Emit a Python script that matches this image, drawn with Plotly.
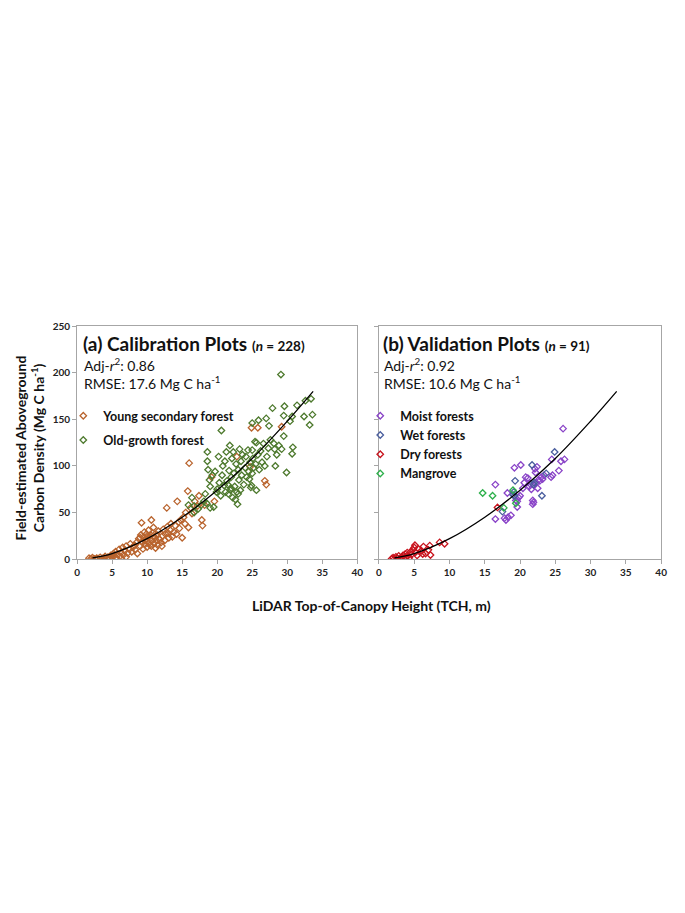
import plotly.graph_objects as go

# ---------------- data ----------------
young_x = [1.7, 2.0, 2.2, 2.5, 2.8, 3.0, 3.3, 3.6, 3.9, 4.0, 4.2, 4.4, 4.6, 4.8, 5.0, 5.2, 5.3, 5.5, 5.6, 5.8,
           6.0, 6.1, 6.3, 6.5, 6.6, 6.8, 7.0, 7.0, 7.2, 7.5, 7.6, 7.8, 8.0, 8.3, 8.5, 8.6,
           8.8, 9.0, 9.1, 9.2, 9.3, 9.4, 9.5, 9.6, 9.7, 9.8, 9.9, 10.0, 10.0, 10.1, 10.2, 10.3, 10.4, 10.5,
           10.6, 10.6, 10.7, 10.8, 10.9, 11.0, 11.1, 11.2, 11.3, 11.4, 11.5, 11.6, 11.8, 12.0, 12.2, 12.3,
           12.5, 12.6, 12.8, 12.9, 13.0, 13.1, 13.3, 13.4, 13.6, 13.8, 14.0, 14.2, 14.3, 14.5, 14.6, 14.8,
           15.0, 15.2, 15.4, 15.5, 15.8, 15.9, 16.0, 16.2, 16.4, 16.8, 17.2, 17.4, 17.8, 17.9, 18.2, 19.2,
           19.6, 22.8, 24.7, 24.9, 25.8, 26.8, 27.0, 29.2, 9.6, 10.4, 11.7, 12.1, 8.2, 9.0, 10.9]
young_y = [1.0, 0.5, 1.5, 0.3, 1.2, 0.5, 2.0, 0.8, 1.5, 3.0, 0.6, 2.2, 1.0, 4.0, 2.5, 6.0, 3.5, 8.0, 1.5, 5.0,
           10.5, 3.0, 7.0, 12.5, 4.5, 9.0, 2.5, 14.0, 6.5, 11.0, 16.5, 8.0, 13.0, 10.0, 18.0, 6.0,
           22.0, 14.0, 26.0, 39.0, 18.0, 11.0, 24.0, 29.0, 16.0, 21.0, 27.0, 13.0, 19.0, 24.0, 31.0, 17.0, 22.0, 26.0,
           42.0, 14.0, 20.0, 28.0, 34.0, 17.0, 23.0, 12.0, 20.0, 26.0, 15.0, 30.0, 21.0, 18.0, 25.0, 32.0,
           20.0, 27.0, 55.0, 35.0, 28.0, 23.0, 31.0, 38.0, 24.0, 29.0, 36.0, 27.0, 62.0, 40.0, 33.0, 42.0,
           23.0, 45.0, 38.0, 50.0, 73.0, 34.0, 103.0, 55.0, 49.0, 62.0, 57.0, 68.0, 42.0, 36.0, 58.0, 88.0,
           62.0, 110.0, 99.0, 141.0, 141.0, 84.0, 80.0, 142.0, 20.0, 15.0, 22.0, 14.0, 15.0, 23.0, 25.0]

old_x = [15.9, 16.4, 16.7, 16.7, 17.3, 17.7, 18.1, 18.3, 18.5, 18.6, 18.6, 18.7, 18.9, 19.0, 19.0, 19.3, 19.5,
         19.7, 19.9, 20.0, 20.2, 20.3, 20.5, 20.6, 20.7, 20.8, 21.0, 21.1, 21.2, 21.3, 21.4, 21.6, 21.7, 21.8,
         21.9, 22.0, 22.1, 22.2, 22.3, 22.4, 22.5, 22.6, 22.7, 22.8, 22.9, 23.0, 23.1, 23.2, 23.3, 23.4, 23.5,
         23.6, 23.8, 24.0, 24.1, 24.2, 24.4, 24.5, 24.7, 24.8, 24.9, 25.0, 25.0, 25.0, 25.1, 25.2, 25.4, 25.5,
         25.6, 25.6, 25.8, 25.9, 26.0, 26.2, 26.4, 26.6, 26.8, 27.0, 27.1, 27.3, 27.4, 27.6, 27.9, 28.1, 28.2,
         28.3, 28.5, 28.8, 29.1, 29.2, 29.5, 29.5, 29.6, 29.9, 30.4, 30.7, 30.7, 30.8, 31.4, 32.4, 32.6, 33.2,
         33.4, 33.6, 22.0, 23.0, 21.5, 24.6]
old_y = [58, 66, 50, 57, 54, 58, 62, 70, 60, 105, 115, 96, 85, 55, 78, 90, 56,
         94, 72, 75, 110, 82, 68, 138, 90, 100, 79, 105, 72, 115, 84, 70, 95, 122,
         74, 88, 108, 66, 115, 92, 78, 64, 102, 72, 59, 96, 85, 118, 74, 105, 90,
         112, 80, 98, 110, 88, 117, 94, 104, 77, 79, 92, 117, 146, 108, 98, 126, 102,
         74, 125, 112, 149, 96, 116, 104, 124, 100, 151, 110, 119, 143, 128, 162, 124, 118,
         100, 112, 122, 198, 118, 132, 154, 164, 93, 148, 113, 153, 120, 165, 153, 170, 144,
         172, 155, 76, 70, 80, 86]

dry_x = [1.8, 2.0, 2.2, 2.4, 2.6, 2.8, 3.0, 3.2, 3.4, 3.5, 3.7, 3.8, 4.0, 4.1, 4.3, 4.5, 4.6, 4.8, 5.0,
         5.1, 5.2, 5.4, 5.6, 6.0, 6.2, 6.3, 6.6, 7.0, 7.2, 7.3, 8.6, 9.3, 16.8]
dry_y = [0.5, 1.5, 0.3, 2.5, 1.0, 3.5, 0.8, 2.0, 4.0, 1.2, 5.5, 2.5, 7.0, 3.5, 1.5, 8.0, 5.0, 10.0, 12.5,
         15.0, 7.5, 4.0, 11.0, 9.0, 5.5, 13.5, 6.0, 10.0, 14.5, 4.5, 18.0, 16.5, 55.5]

moist_x = [16.5, 16.5, 17.8, 18.0, 18.2, 18.3, 18.7, 19.2, 19.4, 19.6, 19.6, 20.0, 20.1, 20.4, 20.8, 21.1,
           21.3, 21.6, 21.8, 21.8, 21.9, 22.0, 22.1, 22.2, 22.3, 22.4, 22.5, 22.6, 23.2, 23.4, 24.4, 24.5,
           24.6, 25.5, 25.8, 26.1, 26.3, 20.6, 21.4, 22.8, 19.8, 23.0]
moist_y = [43, 80, 44, 42, 71, 45, 47, 98, 63, 56, 62, 68, 101, 76, 88, 87,
           78, 75, 59, 63, 61, 80, 97, 93, 82, 99, 76, 85, 86, 90, 88, 107,
           90, 95, 105, 140, 107, 82, 81, 84, 66, 88]

wet_x = [17.5, 19.0, 19.1, 19.2, 19.3, 21.7, 21.9, 23.1, 23.7, 24.9, 22.0]
wet_y = [51, 69, 72, 68, 84, 101, 80, 68, 92, 115, 82]

mang_x = [14.7, 16.1, 17.7, 19.0, 19.4]
mang_y = [71, 68, 55, 74, 60]

# fitted power-law curve
fit_x = [2.2, 5, 10, 15, 20, 25, 30, 33.7]
fit_y = [1.4, 6, 22, 45, 74, 108, 148, 180]

x_ticks = [0, 5, 10, 15, 20, 25, 30, 35, 40]
y_ticks = [0, 50, 100, 150, 200, 250]

# ---------------- figure ----------------
OFF = 8                      # default body margin of the html page
W, H = 685 - 2 * OFF, 890
FONT = "Lato"

fig = go.Figure()

def mk(color):
    return dict(symbol="diamond-open", size=5, color=color, line=dict(width=1.3, color=color))

C_YOUNG = "#B9642E"
C_OLD = "#4E7A2E"
C_MOIST = "#8A44C8"
C_WET = "#4A5E9E"
C_DRY = "#C8141E"
C_MANG = "#2DB04B"

fig.add_trace(go.Scatter(x=young_x, y=young_y, mode="markers", marker=mk(C_YOUNG),
                         name="<b>Young secondary forest</b>", xaxis="x", yaxis="y",
                         legend="legend", legendgroup="a1"))
fig.add_trace(go.Scatter(x=old_x, y=old_y, mode="markers", marker=mk(C_OLD),
                         name="<b>Old-growth forest</b>", xaxis="x", yaxis="y",
                         legend="legend", legendgroup="a2"))
fig.add_trace(go.Scatter(x=fit_x, y=fit_y, mode="lines", line=dict(color="black", width=1.3, shape="spline"),
                         showlegend=False, xaxis="x", yaxis="y"))

fig.add_trace(go.Scatter(x=moist_x, y=moist_y, mode="markers", marker=mk(C_MOIST),
                         name="<b>Moist forests</b>", xaxis="x2", yaxis="y2", legend="legend2"))
fig.add_trace(go.Scatter(x=wet_x, y=wet_y, mode="markers", marker=mk(C_WET),
                         name="<b>Wet forests</b>", xaxis="x2", yaxis="y2", legend="legend2"))
fig.add_trace(go.Scatter(x=dry_x, y=dry_y, mode="markers", marker=mk(C_DRY),
                         name="<b>Dry forests</b>", xaxis="x2", yaxis="y2", legend="legend2"))
fig.add_trace(go.Scatter(x=mang_x, y=mang_y, mode="markers", marker=mk(C_MANG),
                         name="<b>Mangrove</b>", xaxis="x2", yaxis="y2", legend="legend2"))
fig.add_trace(go.Scatter(x=fit_x, y=fit_y, mode="lines", line=dict(color="black", width=1.3, shape="spline"),
                         showlegend=False, xaxis="x2", yaxis="y2"))

def px_x(p):
    return (p - OFF) / W

def px_y(p):
    return 1 - (p - OFF) / H

ydom = [px_y(560), px_y(324)]
LINE = "#A6A6A6"
tickfont = dict(family=FONT, size=10, color="#222222")

common_x = dict(range=[0, 40], tickvals=x_ticks, ticktext=[f"<b>{v}</b>" for v in x_ticks],
                showline=True, linecolor=LINE, linewidth=1, mirror=True, ticks="outside",
                ticklen=4, tickcolor=LINE, showgrid=False, zeroline=False, tickfont=tickfont)
common_y = dict(range=[0, 250], tickvals=y_ticks, showline=True, linecolor=LINE, linewidth=1,
                mirror=True, ticks="outside", ticklen=4, tickcolor=LINE, showgrid=False,
                zeroline=False, tickfont=tickfont, domain=ydom)

fig.update_layout(
    width=W, height=H, margin=dict(l=0, r=0, t=0, b=0),
    paper_bgcolor="white", plot_bgcolor="white",
    font=dict(family=FONT, color="#111111"),
    xaxis=dict(common_x, domain=[px_x(75), px_x(359)], anchor="y"),
    yaxis=dict(common_y, anchor="x", ticktext=[f"<b>{v}</b>" for v in y_ticks]),
    xaxis2=dict(common_x, domain=[px_x(381), px_x(667)], anchor="y2"),
    yaxis2=dict(common_y, anchor="x2", showticklabels=False),
    legend=dict(x=px_x(61), y=px_y(400), xanchor="left", yanchor="top", bgcolor="rgba(0,0,0,0)",
                font=dict(family=FONT, size=12.5, color="#111111"), tracegroupgap=5, itemwidth=30),
    legend2=dict(x=px_x(362), y=px_y(400), xanchor="left", yanchor="top", bgcolor="rgba(0,0,0,0)",
                 font=dict(family=FONT, size=12.5, color="#111111"), tracegroupgap=0, itemwidth=30),
    showlegend=True,
)

ann = []
def text(x, y, s, size, **kw):
    d = dict(x=px_x(x), y=px_y(y), xref="paper", yref="paper", text=s, showarrow=False,
             xanchor="left", yanchor="middle", font=dict(family=FONT, size=size, color="#111111"))
    d.update(kw)
    ann.append(d)

text(79, 342, "<b>(a) Calibration Plots</b> <span style='font-size:13.5px'><b>(<i>n</i> = 228)</b></span>", 19)
text(80, 363, "Adj-<i>r</i><sup>2</sup>: 0.86", 14)
text(80, 381, "RMSE: 17.6 Mg C ha<sup>-1</sup>", 14)
text(383, 342, "<b>(b) Validation Plots</b> <span style='font-size:13.5px'><b>(<i>n</i> = 91)</b></span>", 19)
text(384, 363, "Adj-<i>r</i><sup>2</sup>: 0.92", 14)
text(384, 381, "RMSE: 10.6 Mg C ha<sup>-1</sup>", 14)

text(18, 447, "<b>Field-estimated Aboveground</b>", 14, xanchor="center", textangle=-90)
text(35, 447, "<b>Carbon Density (Mg C ha<sup>-1</sup>)</b>", 14, xanchor="center", textangle=-90)
text(373, 607, "<b>LiDAR Top-of-Canopy Height (TCH, m)</b>", 14, xanchor="center")

fig.update_layout(annotations=ann)

fig.write_html("out.html")
